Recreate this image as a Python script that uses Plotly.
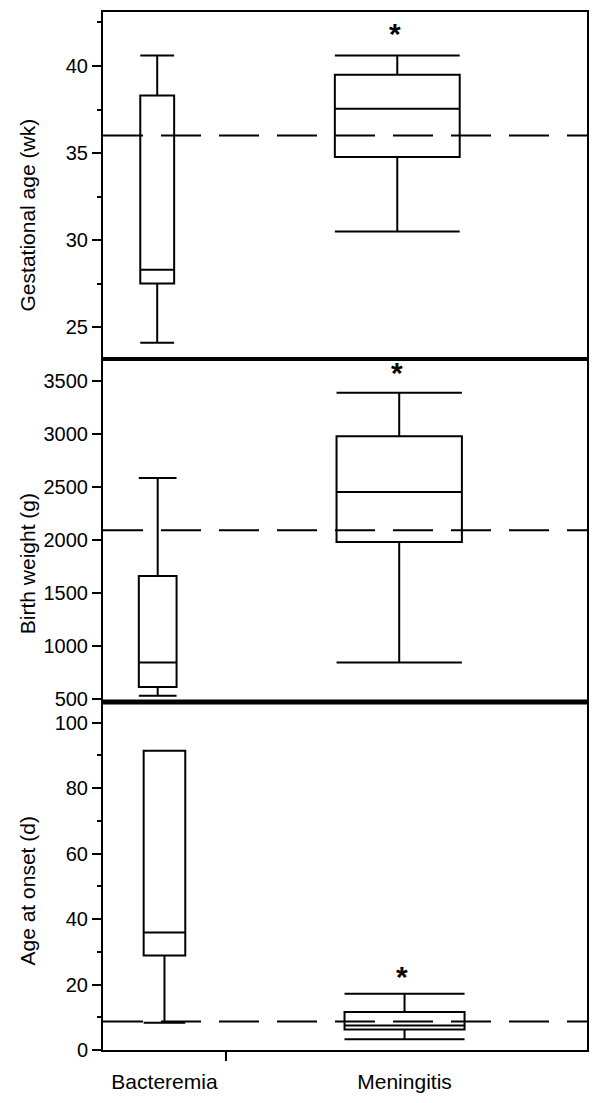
import plotly.graph_objects as go
from plotly.subplots import make_subplots

categories = ["Bacteremia", "Meningitis"]

# Gestational age (wk)
ga_low = [24.1, 30.5]
ga_q1 = [27.5, 34.77]
ga_median = [28.3, 37.55]
ga_q3 = [38.3, 39.5]
ga_high = [40.6, 40.6]
ga_ref = 36.0

# Birth weight (g)
bw_low = [528, 842]
bw_q1 = [610, 1978]
bw_median = [842, 2449]
bw_q3 = [1657, 2975]
bw_high = [2581, 3387]
bw_ref = 2090

# Age at onset (d)
ao_low = [8.3, 3.3]
ao_q1 = [28.9, 6.3]
ao_median = [35.9, 7.5]
ao_q3 = [91.4, 11.6]
ao_high = [91.4, 17.2]
ao_ref = 8.7

titles = ["Gestational age (wk)", "Birth weight (g)", "Age at onset (d)"]

FONT = "Liberation Sans, Arial, sans-serif"

# layout positions (x units on a 0..10 axis)
pos = [[1.12, 6.08], [1.13, 6.12], [1.27, 6.23]]
wid = [[0.70, 2.58], [0.78, 2.59], [0.86, 2.48]]
star_y = [41.85, 3573, 22.6]

fig = make_subplots(rows=3, cols=1, shared_xaxes=True, vertical_spacing=0)

panels = [
    (ga_low, ga_q1, ga_median, ga_q3, ga_high, ga_ref),
    (bw_low, bw_q1, bw_median, bw_q3, bw_high, bw_ref),
    (ao_low, ao_q1, ao_median, ao_q3, ao_high, ao_ref),
]

for r, (lo, q1, med, q3, hi, ref) in enumerate(panels, start=1):
    for i, cat in enumerate(categories):
        fig.add_trace(go.Box(
            x=[pos[r-1][i]], q1=[q1[i]], median=[med[i]], q3=[q3[i]],
            lowerfence=[lo[i]], upperfence=[hi[i]],
            width=wid[r-1][i], whiskerwidth=1, boxpoints=False,
            fillcolor="white", line=dict(color="black", width=2),
            name=cat, showlegend=False, hoverinfo="skip"), row=r, col=1)
    yref = "y" if r == 1 else f"y{r}"
    fig.add_shape(type="line", xref="x", yref=yref, x0=0, x1=10, y0=ref, y1=ref,
                  line=dict(color="black", width=2, dash="40px,18px"))
    # significance asterisk above Meningitis
    fig.add_annotation(x=pos[r-1][1] - 0.05, y=star_y[r-1], xref="x", yref=yref,
                       text="<b>*</b>", showarrow=False,
                       font=dict(family=FONT, size=30, color="black"))

axis_common = dict(showline=True, linecolor="black", linewidth=2, mirror=True,
                   showgrid=False, zeroline=False, ticks="outside", ticklen=9,
                   tickwidth=2, tickcolor="black",
                   tickfont=dict(family=FONT, size=20, color="black"))

fig.update_yaxes(range=[23.17, 43.1], tickvals=[25, 30, 35, 40],
                 minor=dict(tickvals=[27.5, 32.5, 37.5, 42.5], ticks="outside",
                            ticklen=4, tickwidth=2, tickcolor="black"),
                 **axis_common, row=1, col=1)
fig.update_yaxes(range=[468, 3705], tickvals=[500, 1000, 1500, 2000, 2500, 3000, 3500],
                 **axis_common, row=2, col=1)
fig.update_yaxes(range=[0, 106.3], tickvals=[0, 20, 40, 60, 80, 100],
                 minor=dict(tickvals=[10, 30, 50, 70, 90], ticks="outside",
                            ticklen=4, tickwidth=2, tickcolor="black"),
                 **axis_common, row=3, col=1)

x_common = dict(range=[0, 10], showline=True, linecolor="black", linewidth=2,
                mirror=True, showgrid=False, zeroline=False)
fig.update_xaxes(showticklabels=False, ticks="", **x_common, row=1, col=1)
fig.update_xaxes(showticklabels=False, ticks="", **x_common, row=2, col=1)
fig.update_xaxes(tickvals=pos[2], ticktext=categories, ticks="",
                 ticklabelstandoff=12,
                 tickfont=dict(family=FONT, size=21, color="black"),
                 minor=dict(tickvals=[2.535], ticks="outside", ticklen=9,
                            tickwidth=2, tickcolor="black"),
                 **x_common, row=3, col=1)

# domains
H = 1041.0
d3 = [0, 349 / H]
d2 = [349 / H, 693 / H]
d1 = [693 / H, 1]
fig.update_layout(yaxis=dict(domain=d1), yaxis2=dict(domain=d2), yaxis3=dict(domain=d3))

# thick separators between panels
for yy, w in [(d1[0], 4), (d2[0], 5)]:
    fig.add_shape(type="line", xref="paper", yref="paper", x0=0, x1=1, y0=yy, y1=yy,
                  line=dict(color="black", width=w))

# y axis titles
for txt, yc in zip(titles, [0.804, 0.468, 0.1527]):
    fig.add_annotation(text=txt, xref="paper", yref="paper", x=-0.157, y=yc,
                       xanchor="center", yanchor="middle",
                       textangle=-90, showarrow=False,
                       font=dict(family=FONT, size=21, color="black"))

# page body has an 8px margin: size the figure to fit inside it
fig.update_layout(width=584, height=1087,
                  margin=dict(l=95, r=5, t=2, b=44),
                  paper_bgcolor="white", plot_bgcolor="white",
                  boxmode="overlay", showlegend=False)

fig.write_html("out.html")
